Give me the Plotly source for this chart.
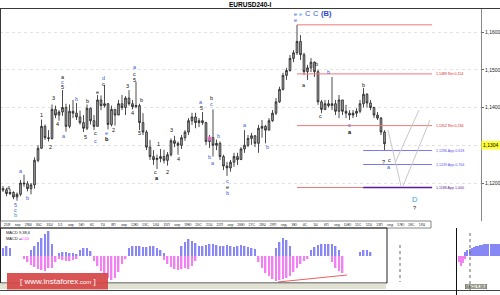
import plotly.graph_objects as go

# ---------------- data ----------------
opens = [1.1185, 1.1182, 1.1172, 1.1175, 1.1163, 1.1170, 1.1200, 1.1198, 1.1185, 1.1195,
         1.1260, 1.1292, 1.1350, 1.1320, 1.1318, 1.1395, 1.1380, 1.1388, 1.1400, 1.1350,
         1.1390, 1.1385, 1.1375, 1.1360, 1.1345, 1.1398, 1.1365, 1.1350, 1.1420, 1.1405,
         1.1410, 1.1355, 1.1395, 1.1380, 1.1410, 1.1400, 1.1425, 1.1410, 1.1402, 1.1405,
         1.1360, 1.1335, 1.1295, 1.1270, 1.1262, 1.1265, 1.1270, 1.1260, 1.1275, 1.1312,
         1.1305, 1.1300, 1.1320, 1.1335, 1.1365, 1.1375, 1.1360, 1.1365, 1.1360, 1.1310,
         1.1320, 1.1300, 1.1305, 1.1270, 1.1245, 1.1240, 1.1255, 1.1270, 1.1262, 1.1290,
         1.1300, 1.1318, 1.1325, 1.1305, 1.1345, 1.1350, 1.1340, 1.1365, 1.1385, 1.1415,
         1.1448, 1.1485, 1.1498, 1.1530, 1.1545, 1.1575, 1.1540, 1.1495, 1.1505, 1.1520,
         1.1495, 1.1415, 1.1395, 1.1410, 1.1405, 1.1410, 1.1390, 1.1420, 1.1390, 1.1385,
         1.1380, 1.1385, 1.1390, 1.1410, 1.1435, 1.1412, 1.1400, 1.1380, 1.1372, 1.1335]
highs = [1.1192, 1.1187, 1.1184, 1.1178, 1.1175, 1.1208, 1.1222, 1.1205, 1.1200, 1.1268,
         1.1300, 1.1368, 1.1355, 1.1340, 1.1408, 1.1405, 1.1393, 1.1446, 1.1410, 1.1408,
         1.1420, 1.1412, 1.1392, 1.1380, 1.1408, 1.1400, 1.1380, 1.1433, 1.1432, 1.1460,
         1.1412, 1.1405, 1.1395, 1.1420, 1.1433, 1.1430, 1.1446, 1.1420, 1.1468, 1.1410,
         1.1385, 1.1340, 1.1314, 1.1287, 1.1275, 1.1290, 1.1288, 1.1282, 1.1318, 1.1325,
         1.1310, 1.1327, 1.1340, 1.1372, 1.1386, 1.1386, 1.1372, 1.1388, 1.1362, 1.1327,
         1.1395, 1.1315, 1.1310, 1.1275, 1.1256, 1.1261, 1.1280, 1.1280, 1.1295, 1.1340,
         1.1327, 1.1333, 1.1327, 1.1354, 1.1367, 1.1354, 1.1372, 1.1393, 1.1425, 1.1455,
         1.1492, 1.1505, 1.1539, 1.1552, 1.1619, 1.1592, 1.1545, 1.1513, 1.1531, 1.1522,
         1.1500, 1.1420, 1.1420, 1.1420, 1.1481, 1.1420, 1.1433, 1.1420, 1.1407, 1.1393,
         1.1393, 1.1398, 1.1420, 1.1452, 1.1438, 1.1420, 1.1402, 1.1388, 1.1375, 1.1340]
lows = [1.1176, 1.1165, 1.1168, 1.1157, 1.1153, 1.1165, 1.1190, 1.1178, 1.1170, 1.1185,
        1.1255, 1.1290, 1.1314, 1.1310, 1.1315, 1.1372, 1.1365, 1.1378, 1.1336, 1.1345,
        1.1372, 1.1367, 1.1355, 1.1335, 1.1340, 1.1355, 1.1340, 1.1350, 1.1393, 1.1400,
        1.1342, 1.1350, 1.1352, 1.1380, 1.1393, 1.1380, 1.1405, 1.1395, 1.1398, 1.1340,
        1.1327, 1.1287, 1.1261, 1.1248, 1.1237, 1.1255, 1.1252, 1.1246, 1.1270, 1.1295,
        1.1275, 1.1290, 1.1312, 1.1327, 1.1354, 1.1345, 1.1348, 1.1354, 1.1301, 1.1293,
        1.1270, 1.1287, 1.1261, 1.1234, 1.1219, 1.1230, 1.1243, 1.1248, 1.1261, 1.1280,
        1.1295, 1.1301, 1.1295, 1.1280, 1.1320, 1.1305, 1.1340, 1.1362, 1.1380, 1.1412,
        1.1445, 1.1473, 1.1495, 1.1520, 1.1539, 1.1526, 1.1486, 1.1473, 1.1494, 1.1481,
        1.1407, 1.1385, 1.1393, 1.1400, 1.1393, 1.1380, 1.1372, 1.1380, 1.1372, 1.1367,
        1.1372, 1.1375, 1.1385, 1.1400, 1.1400, 1.1393, 1.1372, 1.1367, 1.1327, 1.1287]
closes = [1.1182, 1.1172, 1.1175, 1.1163, 1.1170, 1.1200, 1.1198, 1.1185, 1.1195, 1.1260,
          1.1292, 1.1350, 1.1320, 1.1318, 1.1395, 1.1380, 1.1388, 1.1400, 1.1350, 1.1390,
          1.1385, 1.1375, 1.1360, 1.1345, 1.1398, 1.1365, 1.1350, 1.1420, 1.1405, 1.1410,
          1.1355, 1.1395, 1.1380, 1.1410, 1.1400, 1.1425, 1.1410, 1.1402, 1.1405, 1.1360,
          1.1335, 1.1295, 1.1270, 1.1262, 1.1265, 1.1270, 1.1260, 1.1275, 1.1312, 1.1305,
          1.1300, 1.1320, 1.1335, 1.1365, 1.1375, 1.1360, 1.1365, 1.1360, 1.1310, 1.1320,
          1.1300, 1.1305, 1.1270, 1.1245, 1.1240, 1.1255, 1.1270, 1.1262, 1.1290, 1.1300,
          1.1318, 1.1325, 1.1305, 1.1345, 1.1350, 1.1340, 1.1365, 1.1385, 1.1415, 1.1448,
          1.1485, 1.1498, 1.1530, 1.1545, 1.1575, 1.1540, 1.1495, 1.1505, 1.1520, 1.1495,
          1.1415, 1.1395, 1.1410, 1.1405, 1.1410, 1.1390, 1.1420, 1.1390, 1.1385, 1.1380,
          1.1385, 1.1390, 1.1410, 1.1435, 1.1412, 1.1400, 1.1380, 1.1372, 1.1335, 1.1304]
bar_idx = list(range(len(closes)))
last_price = 1.1304

macd_pos = [8, 10, 8, 0, 0, 0, 0, 0, 6, 10,
            14, 18, 22, 25, 12, 0, 3, 4, 4, 3,
            3, 2, 6, 8, 8, 5, 0, 0, 0, 0,
            0, 0, 0, 0, 0, 0, 8, 10, 10, 10,
            9, 9, 10, 10, 8, 6, 3, 0, 0, 0,
            0, 10, 14, 17, 15, 13, 10, 10, 11, 12,
            12, 11, 10, 10, 11, 10, 9, 10, 11, 10,
            9, 8, 7, 0, 0, 0, 0, 0, 8, 14,
            18, 16, 10, 0, 0, 0, 0, 0, 6, 9,
            11, 12, 12, 12, 12, 10, 6, 0, 0, 0,
            0, 0, 4, 6, 6, 4, 0, 0, 0, 0]
macd_neg = [0, 0, 0, 0, 0, 0, -3, -6, -9, -11,
            -13, -14, -15, -12, -12, -6, -3, -4, -5, -5,
            -4, -3, 0, 0, 0, 0, -5, -10, -15, -19,
            -22, -24, -22, -16, -8, -3, 0, 0, 0, 0,
            0, 0, 0, 0, 0, 0, -4, -8, -11, -13,
            -14, -13, -12, -13, -10, -5, 0, 0, 0, 0,
            0, 0, 0, 0, 0, 0, 0, 0, 0, 0,
            0, 0, 0, -6, -12, -17, -20, -23, -25, -24,
            -23, -22, -20, -16, -12, -8, -5, -3, 0, 0,
            0, 0, 0, 0, -6, -12, -15, -17, 0, 0,
            0, 0, 0, 0, 0, 0, 0, 0, 0, 0]
macd_div_x = [78.6, 98.3]
macd_div_y = [-26, -19]

right_pos = [0, 0, 0, 4, 6, 7, 8, 9, 10, 10, 11, 11, 12, 12, 12, 12, 12, 12, 12, 12]
right_neg = [-6, -10, -7, -3, 0, 0, 0, 0, 0, 0, 0, 0, 0, 0, 0, 0, 0, 0, 0, 0]
right_idx = list(range(len(right_pos)))

date_labels = ["25Я", "sep", "29Ш", "30С", "31Ч", "1/1", "апр", "5Ю", "6С", "7Ч",
               "8П", "апр", "12Ю", "13С", "14Ч", "15П", "апр", "19Ю", "20С", "21Ч",
               "22П", "апр", "26Ю", "27С", "28Ч", "29П", "нед", "3Ю", "4С", "5Ч",
               "6П", "нед", "10Ю", "11С", "12Ч", "13П", "нед", "17Ю", "18С", "19Ч"]

price_ticks = [1.12, 1.13, 1.14, 1.15, 1.16]
price_ticktext = ["1,1200", "", "1,1400", "1,1500", "1,1600"]

# Fibonacci levels
ret_levels = [1.1619, 1.1489, 1.1352, 1.1188]
ret_text = ["", "1,1489 Ret 0,114", "1,1352 Ret 0,236", ""]
ret_x = [84, 122.6]
app_levels = [1.1286, 1.1249, 1.1188]
app_text = ["1,1286 App 0,618", "1,1249 App 0,764", "1,1188 App 1,000"]
app_colors = ["#5555ee", "#5555ee", "#5a1a9a"]
app_x = [102.9, 122.6]
fib_label_x = 123.1

# projected path (grey lines)
proj_x = [110.0, 113.71, None, 112.0, 118.86, None, 114.29, 122.0]
proj_y = [1.1340, 1.1192, None, 1.1253, 1.1393, None, 1.1192, 1.1367]

# highlighted bar
hl_x = [59]
hl_y = [1.1318]

# wave labels: position (bar index, price), text, colour key, size key
wave_x = [1.71, 3.43, 3.43, 3.43, 5.14, 7.14, 11.14, 13.43, 14.29, 15.71,
          17.14, 17.14, 17.14, 17.43, 20.86, 23.43, 24.0, 26.29, 26.29, 26.86,
          28.57, 28.57, 29.71, 29.71, 31.71, 35.71, 37.14, 37.71, 37.71, 37.71,
          38.86, 39.43, 43.71, 44.0, 44.29, 47.14, 48.0, 50.0, 56.57, 56.57,
          59.71, 59.71, 58.86, 60.0, 61.43, 64.0, 64.0, 64.0, 69.14, 75.43,
          83.43, 83.43, 85.14, 87.14, 89.43, 92.29, 86.0, 89.71, 90.57, 93.14,
          99.14, 99.14, 102.86, 108.57, 110.29, 110.29, 117.71, 117.71]
wave_y = [1.1187, 1.1142, 1.1128, 1.1115, 1.1232, 1.1160, 1.1380, 1.1295, 1.1425, 1.1356,
          1.1481, 1.1468, 1.1454, 1.1325, 1.1423, 1.1322, 1.1417, 1.1332, 1.1311, 1.1441,
          1.1478, 1.1462, 1.1332, 1.1317, 1.1340, 1.1457, 1.1385, 1.1507, 1.1489, 1.1473,
          1.1332, 1.1420, 1.1229, 1.1213, 1.1303, 1.1229, 1.1340, 1.1264, 1.1415, 1.1399,
          1.1425, 1.1409, 1.1269, 1.1253, 1.1325, 1.1205, 1.1189, 1.1174, 1.1354, 1.1295,
          1.1648, 1.1632, 1.1648, 1.1648, 1.1648, 1.1648, 1.1460, 1.1515, 1.1378, 1.1494,
          1.1354, 1.1335, 1.1460, 1.1256, 1.1261, 1.1242, 1.1155, 1.1134]
wave_text = ["4", "5", "c", "b", "a", "b", "1", "2", "3", "4",
             "a", "c", "5", "a", "b", "5", "b", "c", "c", "e",
             "d", "c", "e", "b", "2", "3", "4", "a", "c", "5",
             "5", "b", "c", "a", "1", "2", "3", "4", "a", "5",
             "b", "c", "b", "a", "b", "c", "e", "b", "a", "b",
             "e", "e", "e", "C", "C", "(B)", "a", "b", "c", "b",
             "c", "a", "b", "?", "c", "a", "D", "?"]
wave_col = ["k", "b", "b", "t", "b", "b", "k", "k", "k", "k",
            "k", "b", "k", "b", "b", "k", "k", "k", "b", "k",
            "b", "k", "b", "K", "k", "k", "k", "b", "k", "k",
            "k", "k", "k", "K", "k", "k", "k", "k", "b", "k",
            "k", "b", "b", "b", "b", "b", "k", "b", "b", "b",
            "b", "b", "l", "b", "b", "B", "k", "k", "k", "b",
            "b", "K", "k", "k", "k", "b", "l", "k"]
wave_big = [0] * 53 + [1, 1, 1] + [0] * 10 + [1, 0]

# ---------------- figure ----------------
W, H = 500, 295


def px(x):
    return x / W


def py(y):
    return 1 - y / H


FONT = "Liberation Sans, Arial, sans-serif"
fig = go.Figure()

fig.add_trace(go.Candlestick(
    x=bar_idx, open=opens, high=highs, low=lows, close=closes,
    increasing=dict(line=dict(color="#1e1e1e", width=0.8), fillcolor="#a8a8a8"),
    decreasing=dict(line=dict(color="#1e1e1e", width=0.8), fillcolor="#a8a8a8"),
    whiskerwidth=0, showlegend=False, hoverinfo="skip", xaxis="x", yaxis="y"))

fig.add_trace(go.Scatter(x=hl_x, y=hl_y, mode="markers",
                         marker=dict(symbol="square", size=4, color="rgba(255,120,220,0.8)"),
                         showlegend=False, hoverinfo="skip"))

for lv in ret_levels:
    fig.add_trace(go.Scatter(x=ret_x, y=[lv, lv], mode="lines",
                             line=dict(color="#f07878", width=1),
                             showlegend=False, hoverinfo="skip"))
for lv, c in zip(app_levels, app_colors):
    fig.add_trace(go.Scatter(x=app_x, y=[lv, lv], mode="lines",
                             line=dict(color=c if c != "#5555ee" else "#7878f0",
                                       width=1.5 if c == "#5a1a9a" else 1),
                             showlegend=False, hoverinfo="skip"))

fig.add_trace(go.Scatter(x=proj_x, y=proj_y, mode="lines",
                         line=dict(color="#c8c8c8", width=1),
                         showlegend=False, hoverinfo="skip"))

# MACD panel
fig.add_trace(go.Bar(x=bar_idx, y=macd_pos, marker=dict(color="#8787f5", line=dict(width=0)),
                     width=0.5, xaxis="x2", yaxis="y2", showlegend=False, hoverinfo="skip"))
fig.add_trace(go.Bar(x=bar_idx, y=macd_neg, marker=dict(color="#f47ff4", line=dict(width=0)),
                     width=0.5, xaxis="x2", yaxis="y2", showlegend=False, hoverinfo="skip"))
fig.add_trace(go.Scatter(x=macd_div_x, y=macd_div_y, mode="lines",
                         line=dict(color="#f06060", width=1), xaxis="x2", yaxis="y2",
                         showlegend=False, hoverinfo="skip"))
fig.add_trace(go.Bar(x=right_idx, y=right_pos, marker=dict(color="#8787f5", line=dict(width=0)),
                     width=0.5, xaxis="x3", yaxis="y2", showlegend=False, hoverinfo="skip"))
fig.add_trace(go.Bar(x=right_idx, y=right_neg, marker=dict(color="#f47ff4", line=dict(width=0)),
                     width=0.5, xaxis="x3", yaxis="y2", showlegend=False, hoverinfo="skip"))

# axes geometry
bar_step = 3.5
x_start = -3 / bar_step
main_right = 481
date_pos = [1.14 + 3.04 * k for k in range(len(date_labels))]

ann = []
colmap = {"k": "#111111", "K": "#000000", "b": "#3a5ae0", "t": "#1a9ab0",
          "l": "#2aa4e0", "B": "#2a48d0"}
for x, y, t, c, big in zip(wave_x, wave_y, wave_text, wave_col, wave_big):
    txt = "<b>%s</b>" % t if c in ("K", "B") else t
    ann.append(dict(x=x, y=y, xref="x", yref="y", text=txt, showarrow=False,
                    xanchor="center",
                    font=dict(size=7.5 if big else 5.5, color=colmap[c], family=FONT)))

for lv, t in zip(ret_levels, ret_text):
    if t:
        ann.append(dict(x=fib_label_x, y=lv, xref="x", yref="y", text=t, showarrow=False,
                        xanchor="left", font=dict(size=3.6, color="#e02020", family=FONT)))
for lv, t, c in zip(app_levels, app_text, app_colors):
    ann.append(dict(x=fib_label_x, y=lv, xref="x", yref="y", text=t, showarrow=False,
                    xanchor="left", font=dict(size=3.6, color=c, family=FONT)))

ann += [
    dict(x=0.5, y=py(4), xref="paper", yref="paper", text="<b>EURUSD240-I</b>",
         xanchor="center", yanchor="middle",
         showarrow=False, font=dict(size=6.5, color="#000", family=FONT)),
    dict(x=px(491), y=py(145.3), xref="paper", yref="paper", text="1,1304",
         xanchor="center", yanchor="middle",
         showarrow=False, font=dict(size=5, color="#000", family=FONT)),
    dict(x=px(4), y=py(232), xref="paper", yref="paper", text="MACD 9,38,6",
         yanchor="middle",
         showarrow=False, xanchor="left", font=dict(size=4, color="#111", family=FONT)),
    dict(x=px(4), y=py(238), xref="paper", yref="paper",
         text="MACD =<span style='color:#ff30ff'>0,00</span>", yanchor="middle",
         showarrow=False, xanchor="left", font=dict(size=4, color="#111", family=FONT)),
    dict(x=px(57.5), y=py(281.5), xref="paper", yref="paper",
         text="[ www.instaforex<span style='font-size:6px'>.com</span> ]",
         xanchor="center", yanchor="middle",
         showarrow=False, font=dict(size=8, color="#ffffff", family=FONT)),
    dict(x=px(476), y=py(286.5), xref="paper", yref="paper", text="MACD 9,38,6",
         xanchor="center", yanchor="middle",
         showarrow=False, bgcolor="#eeeedd", bordercolor="#444", borderwidth=0.5,
         borderpad=0, font=dict(size=3.5, color="#111", family=FONT)),
]

shapes = [
    dict(type="line", xref="paper", yref="paper", x0=0, x1=1, y0=py(8.5), y1=py(8.5),
         line=dict(color="#3a3a3a", width=1)),
    dict(type="line", xref="paper", yref="paper", x0=px(0.5), x1=px(0.5), y0=py(8.5), y1=py(283),
         line=dict(color="#3a3a3a", width=1)),
    dict(type="rect", xref="paper", yref="paper", x0=px(0.5), x1=px(431), y0=py(221), y1=py(228),
         line=dict(color="#666", width=0.8)),
    dict(type="rect", xref="paper", yref="paper", x0=px(0.5), x1=px(387), y0=py(228), y1=py(283),
         line=dict(color="#222", width=1)),
    dict(type="rect", xref="paper", yref="paper", x0=0, x1=px(386), y0=py(283.5), y1=py(289),
         fillcolor="#e2e2d2", line=dict(width=0)),
    dict(type="line", xref="paper", yref="paper", x0=0, x1=1, y0=py(290.5), y1=py(290.5),
         line=dict(color="#444", width=1)),
    dict(type="line", xref="paper", yref="paper", x0=px(456.5), x1=px(456.5), y0=py(228), y1=py(295),
         line=dict(color="#111", width=1)),
    dict(type="line", xref="paper", yref="paper", x0=px(400), x1=px(400), y0=py(245), y1=py(282),
         line=dict(color="#666", width=1, dash="dot")),
    dict(type="line", xref="paper", yref="paper", x0=px(470), x1=px(470), y0=py(233), y1=py(292),
         line=dict(color="#666", width=1, dash="dot")),
    dict(type="rect", xref="paper", yref="paper", x0=px(7), x1=px(108), y0=py(273), y1=py(289.5),
         fillcolor="rgba(214,70,70,0.92)", line=dict(width=0)),
    dict(type="rect", xref="paper", yref="paper", x0=px(481.5), x1=1, y0=py(141), y1=py(149.5),
         fillcolor="#ffff33", line=dict(width=0)),
]

main_top, main_bot = 9, 221
y_hi = 1.16 + (32 - main_top) / 3775
y_lo = 1.16 - (main_bot - 32) / 3775

fig.update_layout(
    width=W, height=H, margin=dict(l=0, r=0, t=0, b=0),
    paper_bgcolor="white", plot_bgcolor="white", barmode="overlay",
    font=dict(family=FONT, size=5, color="#111"),
    xaxis=dict(domain=[0, px(main_right)], range=[x_start, x_start + main_right / bar_step],
               tickvals=date_pos, ticktext=date_labels, ticks="", showgrid=False,
               zeroline=False, showline=False, rangeslider=dict(visible=False),
               tickfont=dict(size=3.5, color="#222"), tickangle=0, anchor="y",
               fixedrange=True),
    yaxis=dict(domain=[py(main_bot), py(main_top)], range=[y_lo, y_hi], side="right",
               tickvals=price_ticks, ticktext=price_ticktext, ticks="outside", ticklen=2,
               tickcolor="#666", showline=True, linecolor="#888", linewidth=1,
               showgrid=True, gridcolor="#e2e2e2", griddash="dot", zeroline=False,
               tickfont=dict(size=5, color="#222"), automargin=False, anchor="x",
               fixedrange=True),
    xaxis2=dict(domain=[0, px(387)], range=[x_start, x_start + 387 / bar_step],
                anchor="y2", visible=False, fixedrange=True),
    yaxis2=dict(domain=[py(283), py(228)], range=[-27, 28], anchor="x2",
                visible=False, fixedrange=True),
    xaxis3=dict(domain=[px(458), 1], range=[-0.5, len(right_idx) - 0.5],
                anchor="y2", visible=False, fixedrange=True),
    annotations=ann, shapes=shapes,
)

fig.write_html("out.html")
